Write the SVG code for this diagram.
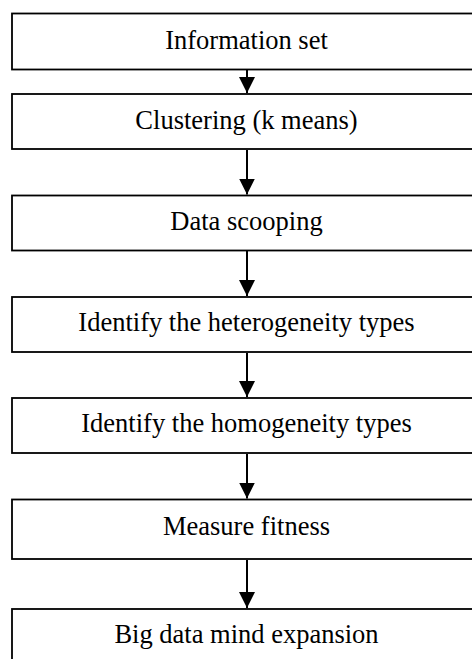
<svg xmlns="http://www.w3.org/2000/svg" width="472" height="659" viewBox="0 0 472 659">
<style>
.box{fill:#fff;stroke:#000;stroke-width:1.8}
.lbl{font-family:"Liberation Serif","Times New Roman",serif;font-size:26.5px;fill:#000;text-anchor:middle}
.edge{stroke:#000;stroke-width:2;fill:none}
</style>
<defs>
<marker id="ah" markerUnits="userSpaceOnUse" markerWidth="16" markerHeight="16" viewBox="0 0 16 16" refX="16" refY="8" orient="auto">
<path d="M0,0 L16,8 L0,16 Z" fill="#000"/>
</marker>
</defs>
<g id="n1"><rect class="box" x="12" y="13.5" width="470" height="56"/><text class="lbl" x="246.5" y="49">Information set</text></g>
<g id="n2"><rect class="box" x="12" y="94" width="470" height="55"/><text class="lbl" x="246.5" y="129">Clustering (k means)</text></g>
<g id="n3"><rect class="box" x="12" y="195.5" width="470" height="55"/><text class="lbl" x="246.5" y="230">Data scooping</text></g>
<g id="n4"><rect class="box" x="12" y="297" width="470" height="55"/><text class="lbl" x="246.5" y="331">Identify the heterogeneity types</text></g>
<g id="n5"><rect class="box" x="12" y="398" width="470" height="55"/><text class="lbl" x="246.5" y="432">Identify the homogeneity types</text></g>
<g id="n6"><rect class="box" x="12" y="499.5" width="470" height="59.5"/><text class="lbl" x="246.5" y="535">Measure fitness</text></g>
<g id="n7"><rect class="box" x="12" y="609" width="470" height="60"/><text class="lbl" x="246.5" y="643">Big data mind expansion</text></g>
<g id="edges">
<line class="edge" x1="247" y1="70" x2="247" y2="93" marker-end="url(#ah)"/>
<line class="edge" x1="247" y1="150" x2="247" y2="194.5" marker-end="url(#ah)"/>
<line class="edge" x1="247" y1="251" x2="247" y2="296" marker-end="url(#ah)"/>
<line class="edge" x1="247" y1="353" x2="247" y2="397" marker-end="url(#ah)"/>
<line class="edge" x1="247" y1="454" x2="247" y2="498.5" marker-end="url(#ah)"/>
<line class="edge" x1="247" y1="560" x2="247" y2="608" marker-end="url(#ah)"/>
</g>
</svg>
